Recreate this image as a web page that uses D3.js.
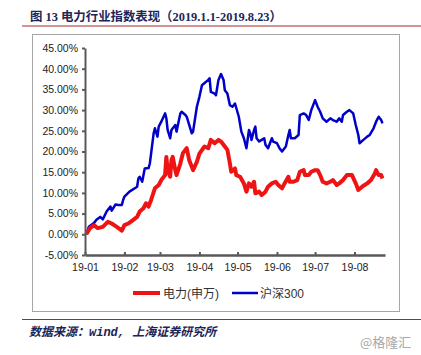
<!DOCTYPE html>
<html>
<head>
<meta charset="utf-8">
<script src="https://cdn.jsdelivr.net/npm/d3@7"></script>
<style>
  html, body { margin: 0; padding: 0; background: #fff; }
  svg { display: block; }
</style>
</head>
<body>
<svg id="chart" width="421" height="355"></svg>
<script>
// ---------- DATA ----------
const titleText = "图 13 电力行业指数表现（2019.1.1-2019.8.23）";
const sourceText = "数据来源：wind, 上海证券研究所";
const watermarkText = "@格隆汇";
const seriesNames = ["电力(申万)", "沪深300"];
const yTickValues = [-5, 0, 5, 10, 15, 20, 25, 30, 35, 40, 45];
const xTickDates = ["2019-01-01","2019-02-01","2019-03-01","2019-04-01","2019-05-01","2019-06-01","2019-07-01","2019-08-01"];
const xDomain = ["2019-01-01", "2019-08-25"];

const powerDates = ["01-02","01-05","01-08","01-11","01-15","01-19","01-22","01-26","01-30","02-01","02-04","02-08","02-11","02-13","02-16","02-18","02-20","02-22","02-25","02-28","03-02","03-05","03-06","03-07","03-09","03-10","03-11","03-13","03-14","03-17","03-19","03-22","03-24","03-27","03-30","04-01","04-05","04-08","04-10","04-13","04-16","04-18","04-21","04-23","04-25","04-26","04-29","04-30","05-03","05-06","05-08","05-10","05-12","05-14","05-15","05-18","05-20","05-23","05-25","05-28","05-31","06-02","06-05","06-07","06-10","06-11","06-14","06-17","06-19","06-22","06-23","06-26","06-28","07-01","07-03","07-05","07-07","07-10","07-13","07-15","07-18","07-20","07-23","07-26","07-30","08-02","08-04","08-07","08-09","08-11","08-14","08-17","08-18","08-20","08-22","08-23"];
const powerValues = [0,1.5,2.2,1.5,1.8,3.0,2.6,1.8,0.9,2.2,2.6,3.5,4.2,5.5,6.3,7.5,6.7,8.3,11.1,11.9,13.1,14.3,18.7,15.5,13.9,17.9,18.7,15.5,14.3,17.1,19.6,20.8,17.9,15.5,17.5,19.5,21.2,20.8,22.8,22.0,22.8,22.4,21.2,20.4,17.1,15.1,15.9,14.3,13.9,12.3,10.3,12.3,11.5,12.7,9.9,10.3,9.5,10.3,11.5,12.3,12.7,11.9,11.1,12.3,13.9,12.7,12.7,13.1,15.1,15.5,14.3,14.3,15.1,15.5,15.5,14.3,12.7,12.3,12.7,13.1,11.9,12.3,13.1,14.3,14.3,12.3,10.7,11.5,11.9,12.3,13.1,14.7,15.5,14.3,14.3,13.5];

const hs300Dates = ["01-02","01-04","01-08","01-10","01-13","01-15","01-18","01-21","01-22","01-25","01-27","01-30","01-31","02-01","02-05","02-11","02-12","02-13","02-15","02-17","02-20","02-21","02-24","02-25","02-27","02-28","03-02","03-05","03-06","03-07","03-09","03-10","03-13","03-14","03-17","03-18","03-21","03-22","03-26","03-27","03-30","04-01","04-03","04-08","04-09","04-10","04-13","04-14","04-16","04-18","04-20","04-21","04-23","04-25","04-27","04-29","05-02","05-04","05-06","05-08","05-10","05-11","05-12","05-14","05-15","05-16","05-18","05-20","05-22","05-23","05-25","05-28","05-29","06-01","06-03","06-05","06-08","06-10","06-11","06-12","06-15","06-18","06-19","06-22","06-24","06-26","06-28","07-01","07-02","07-03","07-05","07-07","07-10","07-13","07-15","07-18","07-20","07-22","07-23","07-26","07-28","07-31","08-02","08-04","08-05","08-08","08-11","08-13","08-16","08-18","08-20","08-22","08-23"];
const hs300Values = [0,1.8,2.7,3.5,4.2,3.6,5.5,6.7,5.7,7.2,7.1,7.1,8.3,9.1,10.3,11.5,13.5,13.9,12.7,15.9,16.0,17.1,24.4,25.6,23.6,26.0,27.2,29.2,28.0,25.2,23.2,25.2,26.4,24.8,29.2,29.6,28.8,28.4,24.4,24.8,30.8,33.2,36.0,37.3,37.7,34.4,34.0,33.6,37.3,38.7,37.3,34.8,34.0,31.2,30.8,31.6,28.4,24.8,23.2,20.8,25.2,24.4,22.8,25.2,26.0,23.2,22.4,22.8,23.2,21.6,20.8,23.2,22.4,22.0,20.8,20.0,21.2,24.0,25.2,23.2,23.2,24.0,28.8,29.2,28.8,27.6,30.0,32.4,31.6,30.8,29.6,28.0,27.2,28.0,27.6,27.2,28.0,27.2,28.8,29.6,30.0,29.2,26.4,24.0,22.0,22.8,23.6,24.0,25.6,27.2,28.4,27.6,26.8];

// ---------- DRAW ----------
const svg = d3.select("#chart");
const parse = d3.timeParse("%Y-%m-%d");
const toSeries = (dates, vals) => dates.map((d, i) => ({ date: parse("2019-" + d), value: vals[i] }));
const power = toSeries(powerDates, powerValues);
const hs300 = toSeries(hs300Dates, hs300Values);

const x = d3.scaleTime().domain(xDomain.map(parse)).range([85, 385]);
const y = d3.scaleLinear().domain([-5, 45]).range([255, 48]);

// title
svg.append("text")
  .attr("x", 30).attr("y", 21)
  .attr("font-family", "'Liberation Serif', 'Noto Sans CJK SC', serif")
  .attr("font-weight", "bold")
  .attr("font-size", 12.4)
  .attr("fill", "#1b2557")
  .text(titleText);
svg.append("line").attr("x1", 22).attr("x2", 421).attr("y1", 26).attr("y2", 26)
  .attr("stroke", "#a52a2a").attr("stroke-width", 1);

// chart frame
svg.append("rect").attr("x", 32.5).attr("y", 34.5).attr("width", 367).attr("height", 277)
  .attr("fill", "none").attr("stroke", "#a6a6a6").attr("stroke-width", 1);

// lines
const line = d3.line().x(d => x(d.date)).y(d => y(d.value)).curve(d3.curveLinear);
svg.append("path").datum(hs300).attr("d", line)
  .attr("fill", "none").attr("stroke", "#0000c8").attr("stroke-width", 2.5)
  .attr("stroke-linejoin", "round");
svg.append("path").datum(power).attr("d", line)
  .attr("fill", "none").attr("stroke", "#ee1414").attr("stroke-width", 4)
  .attr("stroke-linejoin", "round");

// y axis
const yAxis = svg.append("g").attr("transform", "translate(85,0)")
  .call(d3.axisLeft(y).tickValues(yTickValues).tickSize(3).tickSizeOuter(0).tickPadding(4)
    .tickFormat(d => d.toFixed(2) + "%"));
yAxis.select(".domain").attr("stroke", "#595959").attr("stroke-width", 2);
yAxis.selectAll(".tick line").attr("stroke", "#595959").attr("stroke-width", 2);
yAxis.selectAll("text").attr("font-family", "'Liberation Sans', Arial, sans-serif")
  .attr("font-size", 10.5).attr("fill", "#222");

// x axis
const xAxis = svg.append("g").attr("transform", "translate(0,255)")
  .call(d3.axisBottom(x).tickValues(xTickDates.map(parse)).tickSize(-3).tickSizeOuter(0).tickPadding(9)
    .tickFormat(d3.timeFormat("%y-%m")));
xAxis.select(".domain").attr("stroke", "#595959").attr("stroke-width", 2.5);
xAxis.selectAll(".tick line").attr("stroke", "#595959").attr("stroke-width", 2);
xAxis.selectAll("text").attr("font-family", "'Liberation Sans', Arial, sans-serif")
  .attr("font-size", 10.5).attr("fill", "#222");

// legend
const legend = [
  { name: seriesNames[0], color: "#ee1414", w: 4, x1: 133, x2: 160, tx: 163 },
  { name: seriesNames[1], color: "#0000c8", w: 2.5, x1: 232, x2: 258, tx: 260 }
];
legend.forEach(l => {
  svg.append("line").attr("x1", l.x1).attr("x2", l.x2).attr("y1", 293).attr("y2", 293)
    .attr("stroke", l.color).attr("stroke-width", l.w);
  svg.append("text").attr("x", l.tx).attr("y", 297.5)
    .attr("font-family", "'Liberation Sans', 'Noto Sans CJK SC', sans-serif")
    .attr("font-size", 12).attr("fill", "#333").text(l.name);
});

// bottom rule & source
svg.append("line").attr("x1", 22).attr("x2", 421).attr("y1", 319.5).attr("y2", 319.5)
  .attr("stroke", "#a52a2a").attr("stroke-width", 1);
svg.append("text").attr("x", 29).attr("y", 336)
  .attr("font-family", "'Liberation Mono', 'Noto Sans CJK SC', monospace")
  .attr("font-weight", "bold").attr("font-style", "italic")
  .attr("font-size", 12).attr("fill", "#1b2557")
  .text(sourceText);

// watermark
svg.append("text").attr("x", 360).attr("y", 347)
  .attr("font-family", "'Noto Sans CJK SC', sans-serif")
  .attr("font-size", 13).attr("fill", "#a8a8a8")
  .text(watermarkText);
</script>
</body>
</html>
